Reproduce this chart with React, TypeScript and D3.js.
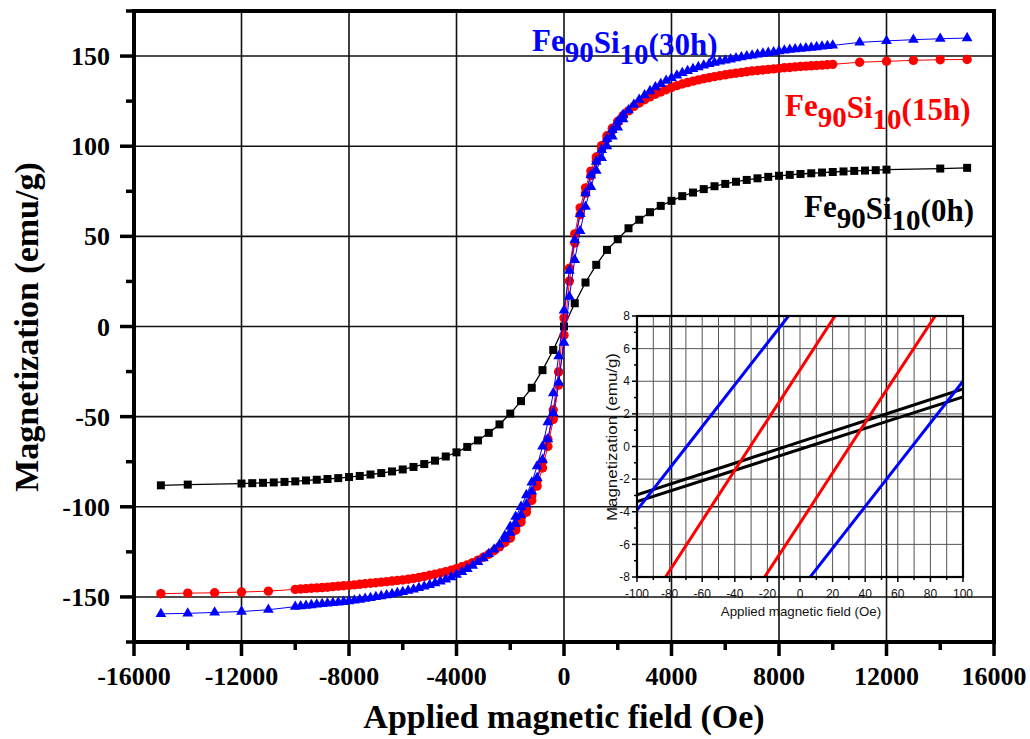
import React from "react";
import * as d3 from "d3";

// ---- main hysteresis data (field in Oe, magnetization in emu/g) ----
const fieldBlack = [
  -15000, -14000, -12000, -11600, -11200, -10800, -10400, -10000, -9600, -9200, -8800, -8400,
  -8000, -7600, -7200, -6800, -6400, -6000, -5600, -5200, -4800, -4400, -4000, -3600, -3200,
  -2800, -2400, -2000, -1600, -1200, -800, -400, 0, 400, 800, 1200, 1600, 2000, 2400, 2800,
  3200, 3600, 4000, 4400, 4800, 5200, 5600, 6000, 6400, 6800, 7200, 7600, 8000, 8400, 8800,
  9200, 9600, 10000, 10400, 10800, 11200, 11600, 12000, 14000, 15000,
];
const magBlack = [
  -88.1, -87.7, -87.1, -86.9, -86.7, -86.5, -86.2, -85.9, -85.4, -85.0, -84.6, -84.1,
  -83.5, -82.9, -82.1, -81.3, -80.4, -79.3, -77.9, -76.3, -74.4, -72.1, -69.8, -66.8, -63.2,
  -59.0, -54.3, -48.3, -41.4, -34.0, -24.2, -13.0, 0.0, 12.9, 24.4, 34.2, 42.5, 48.4, 54.5, 59.2,
  63.4, 66.9, 69.7, 72.3, 74.3, 76.2, 77.8, 79.1, 80.3, 81.3, 82.2, 83.0, 83.6, 84.1, 84.6,
  85.0, 85.4, 85.7, 86.0, 86.3, 86.5, 86.7, 87.0, 87.6, 88.0,
];

const fieldLoop = [
  -15000, -14000, -13000, -12000, -11000,
  -10000, -9800, -9600, -9400, -9200, -9000, -8800, -8600, -8400, -8200,
  -8000, -7800, -7600, -7400, -7200, -7000, -6800, -6600, -6400, -6200,
  -6000, -5800, -5600, -5400, -5200, -5000, -4800, -4600, -4400, -4200,
  -4000, -3800, -3600, -3400, -3200, -3000, -2800, -2600, -2400, -2200,
  -2000, -1800, -1600, -1400, -1200, -1000, -800, -600, -400, -200,
  0, 200, 400, 600, 800, 1000, 1200, 1400, 1600, 1800, 2000, 2200,
  2400, 2600, 2800, 3000, 3200, 3400, 3600, 3800, 4000,
  4200, 4400, 4600, 4800, 5000, 5200, 5400, 5600, 5800, 6000,
  6200, 6400, 6600, 6800, 7000, 7200, 7400, 7600, 7800, 8000,
  8200, 8400, 8600, 8800, 9000, 9200, 9400, 9600, 9800, 10000,
  11000, 12000, 13000, 14000, 15000,
];
const magRedUp = [
  -148.2, -147.9, -147.7, -147.3, -146.8,
  -145.8, -145.6, -145.4, -145.2, -145.0, -144.8, -144.6, -144.3, -144.0, -143.8,
  -143.6, -143.3, -143.0, -142.7, -142.4, -142.1, -141.8, -141.5, -141.2, -140.9,
  -140.6, -140.2, -139.7, -139.2, -138.6, -138.0, -137.4, -136.7, -136.0, -135.2,
  -134.3, -133.3, -132.2, -131.0, -129.6, -128.0, -126.3, -124.4, -122.2, -119.8,
  -117.4, -113.0, -108.5, -103.0, -96.5, -88.5, -78.5, -66.5, -51.5, -32.5,
  -4.8, 25.2, 46.3, 62.0, 73.9, 83.6, 91.8, 98.5, 104.2, 109.0, 113.2, 116.6,
  119.6, 122.0, 124.0, 125.8, 127.4, 128.8, 130.1, 131.3, 132.6,
  133.6, 134.5, 135.3, 136.1, 136.8, 137.4, 138.0, 138.6, 139.1, 139.6,
  140.1, 140.5, 140.9, 141.3, 141.7, 142.0, 142.3, 142.6, 142.9, 143.2,
  143.5, 143.7, 144.0, 144.2, 144.4, 144.6, 144.8, 145.0, 145.2, 145.4,
  146.6, 147.1, 147.6, 148.0, 148.1,
];
const magBlueUp = [
  -159.4, -159.1, -158.6, -158.1, -157.1,
  -155.4, -155.1, -154.8, -154.5, -154.2, -153.9, -153.6, -153.3, -153.0, -152.7,
  -152.3, -151.9, -151.5, -151.0, -150.5, -150.0, -149.5, -149.0, -148.4, -147.8,
  -147.2, -146.5, -145.8, -145.0, -144.2, -143.3, -142.4, -141.4, -140.3, -139.0,
  -137.6, -136.1, -134.4, -132.6, -130.6, -128.5, -126.2, -123.7, -120.9, -117.8,
  -114.3, -109.5, -104.5, -98.5, -91.5, -84.0, -74.0, -62.5, -48.0, -31.0,
  -8.9, 16.5, 37.0, 53.0, 66.5, 77.5, 86.5, 93.5, 100.0, 105.5, 110.5, 115.0,
  120.0, 123.0, 125.8, 128.3, 130.6, 132.7, 134.6, 136.3, 137.9,
  139.3, 140.6, 141.8, 142.9, 143.9, 144.8, 145.6, 146.3, 147.0, 147.6,
  148.2, 148.8, 149.4, 149.9, 150.4, 150.9, 151.4, 151.8, 152.2, 152.7,
  153.1, 153.5, 153.8, 154.1, 154.4, 154.7, 155.0, 155.3, 155.6, 155.9,
  157.6, 158.4, 159.1, 159.6, 160.0,
];

// return (descending) branch near the origin
const fieldReturn = [
  2200, 2000, 1800, 1600, 1400, 1200, 1000, 800, 600, 400, 200, 0,
  -200, -400, -600, -800, -1000, -1200, -1400, -1600, -1800, -2000, -2200,
];
const magRedDown = [
  117.0, 113.8, 110.0, 105.8, 100.3, 94.0, 86.2, 76.9, 65.8, 51.4, 32.3, 4.8,
  -25.2, -46.3, -62.5, -75.0, -85.5, -94.0, -101.0, -106.5, -111.8, -116.5, -119.3,
];
const magBlueDown = [
  117.5, 113.8, 109.0, 104.0, 98.0, 91.5, 84.0, 74.0, 62.5, 48.0, 31.0, 8.9,
  -16.5, -37.0, -53.0, -66.5, -77.5, -86.5, -93.5, -100.0, -105.5, -111.0, -116.0,
];

// ---- inset (low field) data ----
const insetField = [-100, -50, 0, 50, 100];
const insetBlackDown = [-2.97, -1.35, 0.28, 1.9, 3.53];
const insetBlackUp = [-3.38, -1.78, -0.17, 1.43, 3.04];
const insetRedDown = [-10.7, -3.0, 4.7, 12.4, 20.1];
const insetRedUp = [-20.0, -12.3, -4.7, 3.0, 10.6];
const insetBlueDown = [-3.9, 2.5, 8.9, 15.3, 21.7];
const insetBlueUp = [-21.6, -15.2, -8.8, -2.4, 4.0];

const xTicks = [-16000, -12000, -8000, -4000, 0, 4000, 8000, 12000, 16000];
const yTicks = [-150, -100, -50, 0, 50, 100, 150];
const insetXTicks = [-100, -80, -60, -40, -20, 0, 20, 40, 60, 80, 100];
const insetYTicks = [-8, -6, -4, -2, 0, 2, 4, 6, 8];

const RED = "#ff0000";
const BLUE = "#0000ff";
const SERIF = "'Liberation Serif', 'Times New Roman', serif";
const SANS = "'Liberation Sans', Arial, sans-serif";

function Label({ x, y, color, tail }: { x: number; y: number; color: string; tail: string }) {
  return (
    <text x={x} y={y} fill={color} fontFamily={SERIF} fontWeight="bold" fontSize={31}>
      Fe
      <tspan fontSize={29} dy={11}>90</tspan>
      <tspan dy={-9}>Si</tspan>
      <tspan fontSize={29} dy={11}>10</tspan>
      <tspan dy={-9}>{tail}</tspan>
    </text>
  );
}

export default function App() {
  const x = d3.scaleLinear().domain([-16000, 16000]).range([134, 994]);
  const y = d3.scaleLinear().domain([-175, 175]).range([642, 11]);
  const ix = d3.scaleLinear().domain([-100, 100]).range([637, 963]);
  const iy = d3.scaleLinear().domain([-8, 8]).range([577, 316]);

  const line = d3
    .line<[number, number]>()
    .x((d) => x(d[0]))
    .y((d) => y(d[1]));
  const iline = d3
    .line<[number, number]>()
    .x((d) => ix(d[0]))
    .y((d) => iy(d[1]));

  const blackPts = d3.zip(fieldBlack, magBlack) as [number, number][];
  const redUp = d3.zip(fieldLoop, magRedUp) as [number, number][];
  const blueUp = d3.zip(fieldLoop, magBlueUp) as [number, number][];
  const redDown = d3.zip(fieldReturn, magRedDown) as [number, number][];
  const blueDown = d3.zip(fieldReturn, magBlueDown) as [number, number][];
  const tri = d3.symbol(d3.symbolTriangle, 50)();

  const xMinor = d3.range(-16000, 16001, 2000);
  const yMinor = d3.range(-175, 176, 25);
  const ixMinor = d3.range(-100, 101, 10);
  const iyMinor = d3.range(-8, 8.01, 1);

  const insetSeries: [number[], string][] = [
    [insetBlackDown, "#000"],
    [insetBlackUp, "#000"],
    [insetRedDown, RED],
    [insetRedUp, RED],
    [insetBlueDown, BLUE],
    [insetBlueUp, BLUE],
  ];

  return (
    <svg
      width={1030}
      height={739}
      style={{ position: "absolute", left: 0, top: 0, background: "#fff" }}
    >
      <defs>
        <clipPath id="inset-clip">
          <rect x={637} y={316} width={326} height={261} />
        </clipPath>
      </defs>

      {/* main grid */}
      {xTicks.map((t) => (
        <line key={"gx" + t} x1={x(t)} x2={x(t)} y1={11} y2={642} stroke="#111" strokeWidth={1.6} />
      ))}
      {yTicks.map((t) => (
        <line key={"gy" + t} x1={134} x2={994} y1={y(t)} y2={y(t)} stroke="#111" strokeWidth={1.6} />
      ))}

      {/* inset */}
      <g>
        {ixMinor.map((t) => (
          <line key={"igx" + t} x1={ix(t)} x2={ix(t)} y1={316} y2={577} stroke="#555" strokeWidth={1} />
        ))}
        {insetYTicks.map((t) => (
          <line key={"igy" + t} x1={637} x2={963} y1={iy(t)} y2={iy(t)} stroke="#555" strokeWidth={1} />
        ))}
        <g clipPath="url(#inset-clip)">
          {insetSeries.map(([vals, c], i) => (
            <path
              key={"is" + i}
              d={iline(d3.zip(insetField, vals) as [number, number][]) || ""}
              fill="none"
              stroke={c}
              strokeWidth={3}
            />
          ))}
        </g>
        <rect x={637} y={316} width={326} height={261} fill="none" stroke="#000" strokeWidth={2.2} />
        {ixMinor.map((t) => (
          <line
            key={"itx" + t}
            x1={ix(t)}
            x2={ix(t)}
            y1={577}
            y2={577 + (t % 20 === 0 ? 5 : 3)}
            stroke="#000"
            strokeWidth={1.5}
          />
        ))}
        {iyMinor.map((t) => (
          <line
            key={"ity" + t}
            x1={637}
            x2={637 - (t % 2 === 0 ? 5 : 3)}
            y1={iy(t)}
            y2={iy(t)}
            stroke="#000"
            strokeWidth={1.5}
          />
        ))}
        {insetXTicks.map((t) => (
          <text key={"ixl" + t} x={ix(t)} y={598} textAnchor="middle" fontFamily={SANS} fontSize={12} fill="#111">
            {t}
          </text>
        ))}
        {insetYTicks.map((t) => (
          <text key={"iyl" + t} x={630} y={iy(t)} dy="0.35em" textAnchor="end" fontFamily={SANS} fontSize={12} fill="#111">
            {t}
          </text>
        ))}
        <text x={801} y={616} textAnchor="middle" fontFamily={SANS} fontSize={13.3} fill="#111">
          Applied magnetic field (Oe)
        </text>
        <text
          transform="translate(617,437) rotate(-90)"
          textAnchor="middle"
          fontFamily={SANS}
          fontSize={14}
          fill="#111"
          textLength={168}
          lengthAdjust="spacingAndGlyphs"
        >
          Magnetization (emu/g)
        </text>
      </g>

      {/* black 0h */}
      <path d={line(blackPts) || ""} fill="none" stroke="#000" strokeWidth={1.3} />
      {blackPts.map((d, i) => (
        <rect key={"b" + i} x={x(d[0]) - 4} y={y(d[1]) - 4} width={8} height={8} fill="#000" />
      ))}

      {/* red 15h */}
      <path d={line(redUp) || ""} fill="none" stroke={RED} strokeWidth={1} />
      <path d={line(redDown) || ""} fill="none" stroke={RED} strokeWidth={1} />
      {redUp.concat(redDown).map((d, i) => (
        <circle key={"r" + i} cx={x(d[0])} cy={y(d[1])} r={4.7} fill={RED} />
      ))}

      {/* blue 30h */}
      <path d={line(blueUp) || ""} fill="none" stroke={BLUE} strokeWidth={1} />
      <path d={line(blueDown) || ""} fill="none" stroke={BLUE} strokeWidth={1} />
      {blueUp.concat(blueDown).map((d, i) => (
        <path key={"t" + i} d={tri || ""} transform={`translate(${x(d[0])},${y(d[1])})`} fill={BLUE} />
      ))}

      {/* main frame, ticks and labels */}
      <rect x={134} y={11} width={860} height={631} fill="none" stroke="#000" strokeWidth={4} />
      {xMinor.map((t) => (
        <line
          key={"tx" + t}
          x1={x(t)}
          x2={x(t)}
          y1={642}
          y2={642 + (t % 4000 === 0 ? 14 : 8)}
          stroke="#000"
          strokeWidth={3.5}
        />
      ))}
      {yMinor.map((t) => (
        <line
          key={"ty" + t}
          x1={134}
          x2={134 - (t % 50 === 0 ? 14 : 8)}
          y1={y(t)}
          y2={y(t)}
          stroke="#000"
          strokeWidth={3.5}
        />
      ))}
      {xTicks.map((t) => (
        <text key={"xl" + t} x={x(t)} y={685} textAnchor="middle" fontFamily={SERIF} fontWeight="bold" fontSize={26}>
          {t}
        </text>
      ))}
      {yTicks.map((t) => (
        <text key={"yl" + t} x={110} y={y(t)} dy="0.35em" textAnchor="end" fontFamily={SERIF} fontWeight="bold" fontSize={26}>
          {t}
        </text>
      ))}
      <text x={564} y={728} textAnchor="middle" fontFamily={SERIF} fontWeight="bold" fontSize={34}>
        Applied magnetic field (Oe)
      </text>
      <text
        transform="translate(38,327) rotate(-90)"
        textAnchor="middle"
        fontFamily={SERIF}
        fontWeight="bold"
        fontSize={34}
      >
        Magnetization (emu/g)
      </text>

      <Label x={532} y={51} color={BLUE} tail="(30h)" />
      <Label x={785} y={116} color={RED} tail="(15h)" />
      <Label x={804} y={217} color="#000" tail="(0h)" />
    </svg>
  );
}
